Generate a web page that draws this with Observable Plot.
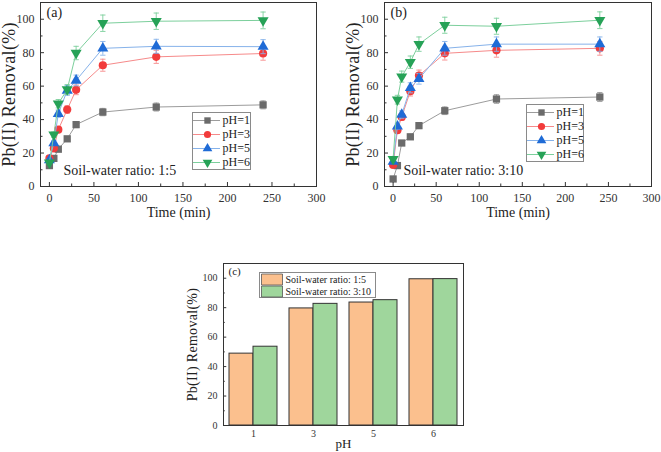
<!DOCTYPE html>
<html><head><meta charset="utf-8">
<script src="https://cdn.jsdelivr.net/npm/d3@7"></script>
<script src="https://cdn.jsdelivr.net/npm/@observablehq/plot@0.6"></script>
<style>
body{margin:0;background:#fff;}
#root{position:relative;width:661px;height:452px;overflow:hidden;background:#fff;font-family:"Liberation Serif","Times New Roman",serif;}
.abs{position:absolute;}
</style></head><body><div id="root"></div>
<script>
// ---------- data ----------
const times = [0, 5, 10, 20, 30, 60, 120, 240];
const seriesNames = ["pH=1", "pH=3", "pH=5", "pH=6"];
// (a) soil-water ratio 1:5
const a_pH1 = [12.5, 16.8, 22.3, 28.5, 37.0, 44.5, 47.5, 48.8];
const a_pH3 = [16.8, 22.8, 34.0, 46.0, 57.8, 72.5, 77.5, 79.5];
const a_pH5 = [15.8, 26.0, 43.5, 57.4, 63.4, 82.6, 83.8, 83.6];
const a_pH6 = [14.3, 31.0, 49.5, 58.0, 79.8, 97.6, 98.8, 99.3];
const a_err1 = [0.6, 0.8, 1.1, 1.4, 1.8, 2.2, 2.4, 2.4];
const a_err3 = [0.8, 1.1, 1.7, 2.3, 2.9, 3.6, 3.9, 4.0];
const a_err5 = [0.8, 1.3, 2.2, 2.9, 3.2, 4.1, 4.2, 4.2];
const a_err6 = [0.7, 1.6, 2.5, 2.9, 4.0, 4.9, 4.9, 5.0];
// (b) soil-water ratio 3:10
const b_pH1 = [4.5, 12.5, 26.0, 29.7, 36.4, 45.3, 52.3, 53.5];
const b_pH3 = [12.9, 33.7, 41.6, 57.0, 66.3, 79.6, 81.4, 82.6];
const b_pH5 = [14.9, 36.0, 43.0, 59.0, 64.4, 82.6, 85.1, 85.1];
const b_pH6 = [16.4, 51.9, 65.7, 74.3, 85.1, 96.4, 95.8, 99.4];
const b_err1 = [0.3, 0.7, 1.3, 1.5, 1.8, 2.3, 2.6, 2.7];
const b_err3 = [0.7, 1.7, 2.1, 2.9, 3.3, 4.0, 4.1, 4.1];
const b_err5 = [0.8, 1.8, 2.2, 3.0, 3.2, 4.1, 4.3, 4.3];
const b_err6 = [0.8, 2.6, 3.3, 3.7, 4.3, 4.8, 4.8, 5.0];
// (c) final removal
const pHLabels = ["1", "3", "5", "6"];
const ratioLabels = ["Soil-water ratio: 1:5", "Soil-water ratio: 3:10"];
const bar_ratio15 = [48.8, 79.5, 83.5, 99.3];
const bar_ratio310 = [53.5, 82.6, 85.1, 99.4];
// ticks
const timeTicks = [0, 50, 100, 150, 200, 250, 300];
const timeMinor = [25, 75, 125, 175, 225, 275];
const yTicks = [0, 20, 40, 60, 80, 100];
const yMinor = [10, 30, 50, 70, 90];

// ---------- style ----------
const serif = '"Liberation Serif", "Times New Roman", serif';
const markerColors = ["#6b6b6b", "#f23b3b", "#1f6bd6", "#26a257"];
const lineColors = ["#9c9c9c", "#f68a8a", "#86b2ea", "#7ccf9c"];
const barColors = ["#fbc08e", "#9fd69c"];
const downTriangle = {draw(ctx, size) {
  const a = Math.sqrt(size * 4 / Math.sqrt(3)), h = a * Math.sqrt(3) / 2;
  ctx.moveTo(0, 2 * h / 3); ctx.lineTo(-a / 2, -h / 3); ctx.lineTo(a / 2, -h / 3); ctx.closePath();
}};
const capSymbol = {draw(ctx, size) { const w = Math.sqrt(size) / 2; ctx.moveTo(-w, 0); ctx.lineTo(w, 0); }};
const swatchSymbol = {draw(ctx) { ctx.rect(-10.5, -5.5, 21, 11); }};
const symbols = ["square", "circle", "triangle", downTriangle];

const root = document.getElementById("root");
function place(el, left, top) {
  el.classList.add("abs");
  el.style.left = left + "px"; el.style.top = top + "px";
  root.appendChild(el);
}

function kinetics({series, errs, label, ratioText, width, height, ml, mr, mt, mb, ratioDx}) {
  const innerW = width - ml - mr, innerH = height - mt - mb;
  const marks = [];
  series.forEach((vals, i) => {
    const rows = times.map((t, j) => ({t, v: vals[j], e: errs[i][j]}));
    marks.push(Plot.line(rows, {x: "t", y: "v", stroke: lineColors[i], strokeWidth: 1}));
    marks.push(Plot.ruleX(rows, {x: "t", y1: d => d.v - d.e, y2: d => d.v + d.e, stroke: lineColors[i], strokeWidth: 0.9}));
    marks.push(Plot.dot(rows, {x: "t", y: d => d.v + d.e, symbol: capSymbol, r: 3.0, stroke: lineColors[i], fill: "none", strokeWidth: 0.9}));
    marks.push(Plot.dot(rows, {x: "t", y: d => d.v - d.e, symbol: capSymbol, r: 3.0, stroke: lineColors[i], fill: "none", strokeWidth: 0.9}));
    marks.push(Plot.dot(rows, {x: "t", y: "v", symbol: symbols[i], r: 4.1, fill: markerColors[i], stroke: "none"}));
  });
  marks.push(
    Plot.tickX(timeTicks, {x: d => d, insetTop: innerH - 4, stroke: "#333"}),
    Plot.tickX(timeMinor, {x: d => d, insetTop: innerH - 2.5, stroke: "#333"}),
    Plot.tickY(yTicks, {y: d => d, insetRight: innerW - 4, stroke: "#333"}),
    Plot.tickY(yMinor, {y: d => d, insetRight: innerW - 2.5, stroke: "#333"}),
    Plot.axisX(timeTicks, {tickSize: 0, tickPadding: 7, fontSize: 12, fill: "#333", label: null}),
    Plot.axisY(yTicks, {tickSize: 0, tickPadding: 6, fontSize: 12, fill: "#333", label: null}),
    Plot.frame({stroke: "#333", strokeWidth: 1}),
    Plot.text([label], {frameAnchor: "top-left", dx: 6, dy: 5, fontSize: 14, fill: "#222"}),
    Plot.text([ratioText], {frameAnchor: "bottom-left", dx: ratioDx, dy: -16, lineAnchor: "middle", fontSize: 14, fill: "#222"}),
    Plot.text(["Time (min)"], {frameAnchor: "bottom", dy: 26, lineAnchor: "middle", fontSize: 14, fill: "#222"}),
    Plot.text(["Pb(II) Removal(%)"], {frameAnchor: "left", dx: -31, rotate: -90, textAnchor: "middle", lineAnchor: "middle", fontSize: 18, fill: "#222"})
  );
  return Plot.plot({
    width, height, marginLeft: ml, marginRight: mr, marginTop: mt, marginBottom: mb,
    x: {domain: [-10, 300]}, y: {domain: [0, 110]},
    style: {fontFamily: serif, background: "transparent", overflow: "visible"},
    marks
  });
}

function symbolLegend(width, height) {
  const marks = [Plot.frame({stroke: "#8a8a8a", fill: "white"})];
  seriesNames.forEach((n, i) => {
    marks.push(Plot.ruleY([n], {y: d => d, insetLeft: 1, insetRight: width - 28, stroke: lineColors[i], strokeWidth: 1}));
    marks.push(Plot.dot([n], {y: d => d, frameAnchor: "left", dx: 15, symbol: symbols[i], r: 3.6, fill: markerColors[i], stroke: "none"}));
  });
  marks.push(Plot.text(seriesNames, {y: d => d, text: d => d, frameAnchor: "left", dx: 30, textAnchor: "start", fontSize: 12, fill: "#222"}));
  return Plot.plot({
    width, height, margin: 0,
    y: {type: "point", domain: seriesNames, padding: 0.5, axis: null},
    style: {fontFamily: serif, background: "transparent", overflow: "visible"},
    marks
  });
}

place(kinetics({series: [a_pH1, a_pH3, a_pH5, a_pH6], errs: [a_err1, a_err3, a_err5, a_err6],
  label: "(a)", ratioText: "Soil-water ratio: 1:5", width: 330, height: 230, ml: 40, mr: 14, mt: 2, mb: 44, ratioDx: 23}), 0, 0);
place(kinetics({series: [b_pH1, b_pH3, b_pH5, b_pH6], errs: [b_err1, b_err3, b_err5, b_err6],
  label: "(b)", ratioText: "Soil-water ratio: 3:10", width: 331, height: 230, ml: 54, mr: 10, mt: 2, mb: 44, ratioDx: 19}), 330, 0);
place(symbolLegend(58, 57), 192, 112);
place(symbolLegend(57, 57), 526, 104);

// ---------- (c) ----------
const barRows = [];
pHLabels.forEach((p, i) => {
  barRows.push({pH: p, ratio: ratioLabels[0], value: bar_ratio15[i]});
  barRows.push({pH: p, ratio: ratioLabels[1], value: bar_ratio310[i]});
});
const cW = 310, cH = 202, cML = 51, cMR = 16, cMT = 13, cMB = 27;
const cInnerW = cW - cML - cMR;
const facetW = cInnerW / pHLabels.length;
const barPlot = Plot.plot({
  width: cW, height: cH, marginLeft: cML, marginRight: cMR, marginTop: cMT, marginBottom: cMB,
  fx: {domain: pHLabels, padding: 0},
  x: {domain: ratioLabels, paddingInner: 0, paddingOuter: 0.245, axis: null},
  y: {domain: [0, 110]},
  color: {domain: ratioLabels, range: barColors},
  style: {fontFamily: serif, background: "transparent", overflow: "visible"},
  marks: [
    Plot.barY(barRows, {fx: "pH", x: "ratio", y: "value", fill: "ratio", stroke: "#333", strokeWidth: 1}),
    Plot.tickY(yTicks, {y: d => d, insetRight: facetW - 4, stroke: "#333", facetAnchor: "left"}),
    Plot.tickY(yMinor, {y: d => d, insetRight: facetW - 2.5, stroke: "#333", facetAnchor: "left"}),
    Plot.axisY(yTicks, {tickSize: 0, tickPadding: 6, fontSize: 10, fill: "#333", label: null}),
    Plot.axisFx({anchor: "bottom", tickSize: 0, tickPadding: 4, fontSize: 10, fill: "#333", label: null}),
    Plot.frame({stroke: "#333", strokeWidth: 1, facet: "super"}),
    Plot.text(["(c)"], {frameAnchor: "top-left", dx: 5, dy: 4, fontSize: 11, fill: "#222", facet: "super"}),
    Plot.text(["pH"], {frameAnchor: "bottom", dy: 18, lineAnchor: "middle", fontSize: 13, fill: "#222", facet: "super"}),
    Plot.text(["Pb(II) Removal(%)"], {frameAnchor: "left", dx: -31, rotate: -90, textAnchor: "middle", lineAnchor: "middle", fontSize: 14, fill: "#222", facet: "super"})
  ]
});
place(barPlot, 170, 250);

const barLegend = Plot.plot({
  width: 116, height: 25, margin: 0,
  y: {type: "point", domain: ratioLabels, padding: 0.5, axis: null},
  color: {domain: ratioLabels, range: barColors},
  style: {fontFamily: serif, background: "transparent", overflow: "visible"},
  marks: [
    Plot.frame({stroke: "#8a8a8a", fill: "white"}),
    Plot.dot(ratioLabels, {y: d => d, frameAnchor: "left", dx: 12.5, symbol: swatchSymbol, fill: d => d, stroke: "#555", strokeWidth: 0.8}),
    Plot.text(ratioLabels, {y: d => d, text: d => d, frameAnchor: "left", dx: 26, textAnchor: "start", fontSize: 10, fill: "#222"})
  ]
});
place(barLegend, 259, 272);

// stretch the long y titles a little, as in the reference
d3.select(root).selectAll("text").filter(function() { return this.textContent === "Pb(II) Removal(%)"; })
  .style("letter-spacing", function() { return +this.getAttribute("font-size") >= 18 ? "1.3px" : "0.3px"; });
</script></body></html>
